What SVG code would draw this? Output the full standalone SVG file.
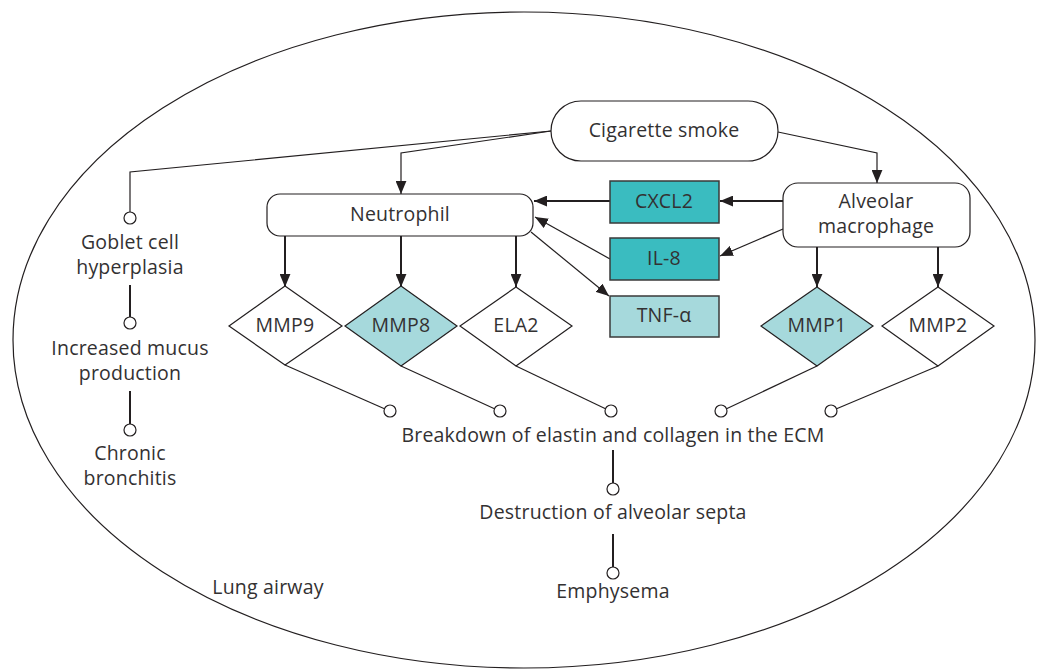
<svg xmlns="http://www.w3.org/2000/svg" width="1045" height="669" viewBox="0 0 1045 669">
<style>
text{font-family:"Open Sans","Liberation Sans",sans-serif;font-size:19.5px;letter-spacing:0.2px;fill:#333132;text-anchor:middle}
.thin{fill:none;stroke:#231f20;stroke-width:1.2}
.thick{fill:none;stroke:#231f20;stroke-width:2}
.box{fill:#fff;stroke:#231f20;stroke-width:1.2}
.dk{fill:#3abcc0;stroke:#3a3a3a;stroke-width:1.5}
.lt{fill:#a6d9dc;stroke:#3a3a3a;stroke-width:1.5}
.dot{fill:#fff;stroke:#231f20;stroke-width:1.2}
</style>
<defs>
<marker id="ah" viewBox="0 0 12 10" refX="12" refY="5" markerWidth="13" markerHeight="11" markerUnits="userSpaceOnUse" orient="auto">
<path d="M0,0 L12,5 L0,10 Z" fill="#231f20"/>
</marker>
</defs>
<g id="lung"><ellipse cx="524" cy="340" rx="511" ry="328" class="thin"/><text x="268" y="594">Lung airway</text></g>
<g id="connectors">
<polyline class="thin" points="551,131 130,172 130,212"/>
<polyline class="thin" points="551,131 401,153 401,194" marker-end="url(#ah)"/>
<polyline class="thin" points="778,132 877,153 877,183" marker-end="url(#ah)"/>
<line class="thick" x1="783" y1="201" x2="720" y2="201" marker-end="url(#ah)"/>
<line class="thick" x1="610" y1="201" x2="534" y2="201" marker-end="url(#ah)"/>
<line class="thin" x1="783" y1="229" x2="720" y2="256" marker-end="url(#ah)"/>
<line class="thin" x1="610" y1="259" x2="535" y2="217" marker-end="url(#ah)"/>
<line class="thin" x1="531" y1="232" x2="609" y2="296" marker-end="url(#ah)"/>
<line class="thick" x1="285" y1="236" x2="285" y2="287" marker-end="url(#ah)"/>
<line class="thick" x1="401" y1="236" x2="401" y2="287" marker-end="url(#ah)"/>
<line class="thick" x1="516" y1="236" x2="516" y2="287" marker-end="url(#ah)"/>
<line class="thick" x1="817" y1="247" x2="817" y2="287" marker-end="url(#ah)"/>
<line class="thick" x1="938" y1="247" x2="938" y2="287" marker-end="url(#ah)"/>
<line class="thin" x1="285" y1="365" x2="385" y2="409"/>
<line class="thin" x1="401" y1="366" x2="495" y2="409"/>
<line class="thin" x1="516" y1="366" x2="606" y2="409"/>
<line class="thin" x1="817" y1="366" x2="726" y2="409"/>
<line class="thin" x1="938" y1="366" x2="836" y2="409"/>
<line class="thick" x1="613" y1="450" x2="613" y2="483"/>
<line class="thick" x1="613" y1="534" x2="613" y2="567"/>
<line class="thick" x1="130" y1="285" x2="130" y2="317"/>
<line class="thick" x1="130" y1="391" x2="130" y2="424"/>
<circle class="dot" cx="130" cy="218" r="6"/>
<circle class="dot" cx="130" cy="323" r="6"/>
<circle class="dot" cx="130" cy="430" r="6"/>
<circle class="dot" cx="390" cy="411" r="6"/>
<circle class="dot" cx="500" cy="411" r="6"/>
<circle class="dot" cx="611" cy="411" r="6"/>
<circle class="dot" cx="721" cy="411" r="6"/>
<circle class="dot" cx="831" cy="411" r="6"/>
<circle class="dot" cx="613" cy="489" r="6"/>
<circle class="dot" cx="613" cy="573" r="6"/>
</g>
<g id="smoke"><rect class="box" x="551" y="101" width="227" height="60" rx="30"/><text x="664" y="137">Cigarette smoke</text></g>
<g id="macrophage"><rect class="box" x="783" y="183" width="187" height="64" rx="15"/><text x="876" y="208">Alveolar</text><text x="876" y="233">macrophage</text></g>
<g id="neutrophil"><rect class="box" x="267" y="194" width="266" height="42" rx="13"/><text x="400" y="221">Neutrophil</text></g>
<g id="cxcl2"><rect class="dk" x="610" y="181" width="109" height="42"/><text x="664" y="208">CXCL2</text></g>
<g id="il8"><rect class="dk" x="610" y="238" width="109" height="42"/><text x="664" y="265">IL-8</text></g>
<g id="tnfa"><rect class="lt" x="610" y="296" width="109" height="41"/><text x="664" y="322">TNF-α</text></g>
<g id="mmp9"><polygon class="box" points="285,286 342,326 285,365 229,326"/><text x="285" y="332">MMP9</text></g>
<g id="mmp8"><polygon class="lt" style="stroke:#231f20;stroke-width:1.2" points="401,286 457,326 401,366 345,326"/><text x="401" y="332">MMP8</text></g>
<g id="ela2"><polygon class="box" points="516,287 572,326 516,366 460,326"/><text x="516" y="332">ELA2</text></g>
<g id="mmp1"><polygon class="lt" style="stroke:#231f20;stroke-width:1.2" points="817,287 873,326 817,366 761,326"/><text x="817" y="332">MMP1</text></g>
<g id="mmp2"><polygon class="box" points="938,287 994,326 938,366 882,326"/><text x="938" y="332">MMP2</text></g>
<g id="goblet"><text x="130" y="249">Goblet cell</text><text x="130" y="274">hyperplasia</text></g>
<g id="mucus"><text x="130" y="355">Increased mucus</text><text x="130" y="380">production</text></g>
<g id="bronchitis"><text x="130" y="460">Chronic</text><text x="130" y="485">bronchitis</text></g>
<g id="breakdown"><text x="613" y="442">Breakdown of elastin and collagen in the ECM</text></g>
<g id="destruction"><text x="613" y="519">Destruction of alveolar septa</text></g>
<g id="emphysema"><text x="613" y="598">Emphysema</text></g>
</svg>
